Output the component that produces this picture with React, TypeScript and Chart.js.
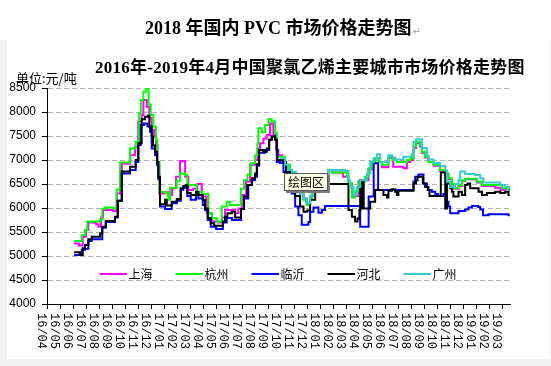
import React, { useEffect, useRef } from 'react';
import { Chart, registerables } from 'chart.js';

Chart.register(...registerables);

const mainTitle = '2018 年国内 PVC 市场价格走势图';
const subTitle = '2016年-2019年4月中国聚氯乙烯主要城市市场价格走势图';
const unitLabel = '单位:元/吨';
const plotTip = '绘图区';

const xLabels = [
  '16/04', '16/05', '16/06', '16/07', '16/08', '16/09', '16/10', '16/11', '16/12',
  '17/01', '17/02', '17/03', '17/04', '17/05', '17/06', '17/07', '17/08', '17/09', '17/10', '17/11', '17/12',
  '18/01', '18/02', '18/03', '18/04', '18/05', '18/06', '18/07', '18/08', '18/09', '18/10', '18/11', '18/12',
  '19/01', '19/02', '19/03',
];

const yMin = 4000;
const yMax = 8500;
const yStep = 500;

const seriesNames = ['上海', '杭州', '临沂', '河北', '广州'];
const seriesColors = ['#ff00ff', '#00ff00', '#0000ff', '#000000', '#33cccc'];

// [month index from 16/04, price]
const shanghai: [number, number][] = [
  [2.08, 5260], [2.46, 5220], [2.75, 5400], [3.0, 5540], [3.18, 5700], [3.77, 5660], [3.95, 5610], [4.15, 5800],
  [4.31, 5960], [5.08, 5940], [5.36, 6300], [5.62, 6600], [5.75, 6920], [6.38, 7100], [6.77, 7280], [7.02, 7800],
  [7.28, 7940], [7.41, 8250], [7.67, 8110], [7.87, 7870], [8.05, 7630], [8.23, 7480], [8.38, 7300], [8.5, 6900],
  [8.64, 6300], [9.08, 6330], [9.31, 6270], [9.62, 6410], [9.92, 6650], [10.23, 6980], [10.62, 6650], [10.87, 6375],
  [11.23, 6400], [11.56, 6500], [11.9, 6240], [12.28, 5890], [12.67, 5720], [13.15, 5700], [13.46, 5800], [13.69, 5960],
  [14.46, 5890], [14.72, 5990], [14.98, 6270], [15.31, 6550], [15.62, 6900], [16.0, 7000], [16.18, 7240], [16.38, 7350],
  [16.64, 7450], [16.9, 7520], [17.15, 7760], [17.41, 7520], [17.62, 7210], [17.79, 7100], [18.08, 6950], [18.38, 6850],
  [18.69, 6720], [19.08, 6520], [19.46, 6300], [19.72, 6200], [19.98, 6080], [20.23, 6250], [20.38, 6340], [20.69, 6500],
  [21.0, 6650], [21.64, 6790], [21.92, 6740], [22.77, 6650], [23.18, 6510], [23.44, 6250], [23.95, 6550], [24.31, 6580],
  [24.72, 6800], [24.98, 6960], [25.23, 7035], [25.48, 6960], [25.75, 6850], [26.25, 7040], [26.62, 6860], [27.4, 6830],
  [27.67, 6960], [27.92, 7000], [28.18, 7250], [28.38, 7350], [28.69, 7280], [28.82, 7150], [29.08, 7050], [29.33, 6960],
  [29.72, 6880], [30.23, 6770], [30.62, 6700], [30.87, 6600], [31.13, 6490], [31.25, 6400], [31.64, 6460], [31.9, 6560],
  [32.15, 6600], [33.05, 6530], [33.44, 6460], [34.46, 6420], [34.85, 6380], [35.23, 6400], [35.54, 6350], [35.58, 6350],
];

const hangzhou: [number, number][] = [
  [2.08, 5310], [2.67, 5440], [2.92, 5540], [3.1, 5720], [4.08, 5760], [4.25, 5980], [4.46, 6010], [5.08, 5990],
  [5.36, 6380], [5.62, 6950], [6.38, 7240], [6.82, 7380], [7.08, 7970], [7.21, 8250], [7.41, 8420], [7.62, 8480],
  [7.82, 8150], [7.98, 7940], [8.18, 7700], [8.38, 7420], [8.48, 6960], [8.64, 6340], [9.08, 6310], [9.33, 6170],
  [9.46, 6420], [9.98, 6570], [10.23, 6720], [10.62, 6690], [10.79, 6480], [11.52, 6340], [11.9, 6290], [12.41, 5890],
  [12.67, 5785], [13.05, 5715], [13.44, 6030], [13.82, 6130], [14.08, 6060], [14.9, 6400], [15.15, 6580], [15.41, 6700],
  [15.67, 6930], [16.0, 7100], [16.18, 7350], [16.25, 7660], [16.52, 7580], [16.77, 7730], [17.02, 7850], [17.28, 7800],
  [17.54, 7560], [17.67, 7070], [18.31, 6900], [18.69, 6750], [19.08, 6550], [19.46, 6330], [19.72, 6170], [19.98, 6060],
  [20.23, 6210], [20.36, 6340], [20.69, 6500], [21.0, 6650], [21.64, 6790], [21.92, 6740], [23.05, 6650], [23.18, 6510],
  [23.44, 6220], [23.69, 6350], [23.95, 6550], [24.46, 6650], [24.72, 6830], [24.98, 6960], [25.23, 7035], [25.48, 6960],
  [25.75, 6900], [26.25, 7070], [26.54, 7000], [26.9, 6960], [27.67, 7000], [27.92, 7030], [28.18, 7280], [28.38, 7380],
  [28.69, 7310], [28.82, 7170], [29.08, 7070], [29.33, 6960], [29.72, 6900], [30.23, 6790], [30.62, 6720], [30.87, 6620],
  [31.13, 6510], [31.25, 6410], [31.64, 6480], [31.9, 6580], [32.15, 6610], [33.05, 6550], [33.44, 6480], [34.98, 6410],
  [35.48, 6375], [35.58, 6375],
];

const linyi: [number, number][] = [
  [2.08, 5020], [2.67, 5130], [2.92, 5150], [3.18, 5310], [3.44, 5350], [4.13, 5350], [4.25, 5590], [4.52, 5710],
  [5.23, 5800], [5.44, 6150], [5.75, 6720], [6.38, 6790], [6.82, 6960], [7.02, 7310], [7.21, 7730], [7.46, 7760],
  [7.72, 7700], [7.92, 7590], [8.05, 7240], [8.31, 7100], [8.46, 6900], [8.56, 6600], [8.69, 6030], [9.08, 5980],
  [9.59, 6100], [9.98, 6150], [10.28, 6380], [10.48, 6420], [10.69, 6460], [10.79, 6250], [11.05, 6170], [11.46, 6300],
  [11.64, 6200], [11.98, 6060], [12.15, 5960], [12.36, 5750], [12.59, 5610], [13.0, 5560], [13.52, 5700], [13.82, 5790],
  [14.23, 5750], [14.92, 5980], [15.15, 6200], [15.48, 6480], [15.75, 6580], [16.0, 6650], [16.15, 6880], [16.31, 7150],
  [16.77, 7210], [17.08, 7420], [17.28, 7490], [17.54, 7420], [17.67, 6960], [17.92, 6940], [18.18, 6750], [18.44, 6580],
  [18.82, 6300], [19.08, 6030], [19.33, 5850], [19.59, 5650], [20.1, 5710], [20.23, 5920], [20.49, 6010], [20.87, 5900],
  [21.13, 5960], [21.38, 6040], [24.08, 5610], [24.73, 6240], [25.12, 6930], [25.46, 6375], [28.18, 6550], [28.31, 6650],
  [28.56, 6700], [28.95, 6510], [29.21, 6440], [29.33, 6375], [29.59, 6340], [29.85, 6290], [30.08, 6250], [30.48, 6290],
  [30.75, 6130], [30.87, 6030], [31.0, 5890], [31.64, 5940], [32.15, 5970], [32.41, 6010], [32.67, 6040], [33.15, 6020],
  [33.31, 5970], [33.52, 5850], [33.95, 5870], [35.48, 5850], [35.58, 5850],
];

const hebei: [number, number][] = [
  [2.08, 5080], [2.54, 5020], [2.75, 5160], [2.92, 5230], [3.18, 5350], [3.44, 5400], [4.08, 5470], [4.25, 5610],
  [4.52, 5730], [5.23, 5820], [5.44, 6150], [5.75, 6760], [6.38, 6860], [6.82, 7000], [7.02, 7350], [7.28, 7850],
  [7.54, 7900], [7.75, 7920], [7.87, 7700], [8.05, 7490], [8.15, 7300], [8.31, 7170], [8.46, 6960], [8.56, 6650],
  [8.69, 6080], [9.08, 6170], [9.21, 6050], [9.59, 6130], [9.98, 6190], [10.28, 6410], [10.48, 6460], [10.69, 6480],
  [10.79, 6310], [11.05, 6270], [11.46, 6340], [11.64, 6270], [11.98, 6170], [12.15, 5990], [12.36, 5790], [12.59, 5680],
  [12.85, 5630], [13.52, 5720], [13.69, 5820], [13.87, 5890], [14.21, 5920], [14.46, 5800], [14.92, 5980], [15.15, 6240],
  [15.41, 6480], [15.75, 6620], [16.0, 6720], [16.13, 6910], [16.31, 7210], [16.64, 7170], [16.9, 7240], [17.08, 7420],
  [17.28, 7490], [17.54, 7420], [17.67, 7210], [17.72, 7000], [18.15, 6960], [18.38, 6750], [18.69, 6500], [19.08, 6250],
  [19.46, 6030], [19.72, 5920], [20.0, 5950], [20.23, 6170], [20.62, 6340], [20.85, 6500], [23.18, 5960], [23.44, 5820],
  [23.69, 5720], [23.88, 5780], [24.02, 5960], [24.08, 6580], [24.15, 5990], [24.27, 6550], [24.35, 5990], [24.85, 6130],
  [25.23, 6375], [25.87, 6270], [26.13, 6220], [26.25, 6360], [26.52, 6390], [26.77, 6340], [26.9, 6270], [27.02, 6360],
  [28.18, 6510], [28.37, 6580], [28.49, 6650], [28.9, 6510], [29.08, 6440], [29.28, 6375], [29.41, 6250], [30.28, 6740],
  [30.62, 5990], [30.75, 6510], [31.0, 6410], [31.13, 6340], [31.25, 6240], [31.64, 6340], [31.9, 6270], [32.15, 6480],
  [32.33, 6510], [32.54, 6410], [33.18, 6340], [33.44, 6270], [33.82, 6310], [34.46, 6340], [34.85, 6310], [35.23, 6340],
  [35.48, 6270], [35.58, 6270],
];

const guangzhou: [number, number][] = [
  [17.92, 7035], [18.31, 6900], [18.54, 6790], [18.85, 6750], [19.15, 6550], [19.46, 6300], [19.69, 6200], [19.92, 6100],
  [20.23, 6250], [20.46, 6400], [20.85, 6600], [21.15, 6700], [21.64, 6790], [22.92, 6770], [23.18, 6580], [23.31, 6440],
  [23.56, 6270], [23.82, 6440], [24.08, 6580], [24.59, 6720], [24.85, 6960], [25.1, 7035], [25.36, 7120], [25.62, 6960],
  [26.25, 7100], [26.54, 7050], [26.77, 7010], [27.41, 7070], [28.05, 7120], [28.18, 7380], [28.38, 7430], [28.82, 7250],
  [29.21, 7100], [29.33, 7010], [29.72, 6940], [30.23, 6875], [30.62, 6780], [30.75, 6550], [31.0, 6440], [31.38, 6500],
  [31.64, 6580], [31.77, 6760], [32.15, 6710], [32.92, 6690], [33.31, 6620], [33.56, 6530], [34.85, 6480], [35.23, 6440],
  [35.58, 6360],
];

const seriesData = [shanghai, hangzhou, linyi, hebei, guangzhou];

const decorPlugin = {
  id: 'decor',
  beforeDraw(chart: any) {
    const ctx = chart.ctx;
    ctx.save();
    ctx.fillStyle = '#ffffff';
    ctx.fillRect(0, 0, 551, 366);
    ctx.fillStyle = '#f2f2f2';
    ctx.fillRect(0, 40, 7, 326);
    ctx.fillRect(0, 359, 551, 7);
    ctx.fillRect(550, 40, 1, 326);
    ctx.restore();
  },
  afterDraw(chart: any) {
    const ctx = chart.ctx;
    const xs = chart.scales.x;
    ctx.save();

    // titles
    ctx.fillStyle = '#000';
    ctx.textAlign = 'left';
    ctx.textBaseline = 'alphabetic';
    ctx.font = 'bold 18px "Liberation Serif", "Noto Sans CJK SC"';
    ctx.fillText(mainTitle, 145, 33.5);
    const w = ctx.measureText(mainTitle).width;
    ctx.fillStyle = '#9a9a9a';
    ctx.font = '10px "DejaVu Sans"';
    ctx.fillText('↵', 145 + w + 1, 35);

    ctx.fillStyle = '#000';
    ctx.font = 'bold 17px "Liberation Serif", "Noto Sans CJK SC"';
    (ctx as any).letterSpacing = '0.25px';
    ctx.fillText(subTitle, 95, 73);
    (ctx as any).letterSpacing = '0px';

    ctx.font = '13px "Noto Sans CJK SC"';
    ctx.fillText(unitLabel, 16, 82.5);

    // x labels rotated clockwise
    ctx.font = '12px "Liberation Mono"';
    ctx.textBaseline = 'alphabetic';
    ctx.textAlign = 'left';
    xLabels.forEach((lab, i) => {
      const px = xs.getPixelForValue(i);
      ctx.save();
      ctx.translate(px - 9.5, 313);
      ctx.rotate(Math.PI / 2);
      ctx.fillText(lab, 0, 0);
      ctx.restore();
    });

    // legend inside plot
    const ly = 274;
    chart.data.datasets.forEach((ds: any, i: number) => {
      const x0 = 99.5 + i * 76;
      ctx.strokeStyle = ds.borderColor;
      ctx.lineWidth = 2;
      ctx.beginPath();
      ctx.moveTo(x0, ly);
      ctx.lineTo(x0 + 27.5, ly);
      ctx.stroke();
      ctx.fillStyle = '#000';
      ctx.font = '12px "Noto Sans CJK SC"';
      ctx.textBaseline = 'middle';
      ctx.fillText(ds.label, x0 + 29, ly);
    });

    // plot-area hint box
    ctx.fillStyle = '#7a7a7a';
    ctx.fillRect(286, 175, 44, 18);
    ctx.fillStyle = '#ffffe1';
    ctx.fillRect(284, 173, 44, 18);
    ctx.strokeStyle = '#555';
    ctx.lineWidth = 1;
    ctx.strokeRect(284.5, 173.5, 43, 17);
    ctx.fillStyle = '#000';
    ctx.font = '12px "Noto Sans CJK SC"';
    ctx.textBaseline = 'alphabetic';
    ctx.fillText(plotTip, 288, 187);

    ctx.restore();
  },
};

export default function App() {
  const ref = useRef<HTMLCanvasElement | null>(null);

  useEffect(() => {
    if (!ref.current) return;
    Chart.defaults.font.family = '"Liberation Sans", Arial, sans-serif';
    const chart = new Chart(ref.current, {
      type: 'line',
      data: {
        datasets: seriesNames.map((name, i) => ({
          label: name,
          data: seriesData[i].map(([x, y]) => ({ x, y })),
          borderColor: seriesColors[i],
          backgroundColor: seriesColors[i],
          borderWidth: 2,
          pointRadius: 0,
          stepped: 'before' as const,
          fill: false,
          order: 5 - i,
        })),
      },
      options: {
        animation: false,
        responsive: false,
        devicePixelRatio: 1,
        events: [],
        layout: { padding: { top: 88, right: 41, left: 0, bottom: 0 } },
        plugins: {
          legend: { display: false },
          tooltip: { enabled: false },
          title: { display: false },
        },
        scales: {
          x: {
            type: 'linear',
            min: 0,
            max: 35.6,
            afterFit: (s: any) => { s.height = 62; },
            ticks: { display: false, stepSize: 1, includeBounds: false, maxTicksLimit: 100, autoSkip: false },
            grid: { drawOnChartArea: false, drawTicks: true, tickLength: 5, tickColor: '#000' },
            border: { display: true, color: '#000', width: 1 },
          },
          y: {
            type: 'linear',
            min: yMin,
            max: yMax,
            afterFit: (s: any) => { s.width = 47; },
            ticks: {
              stepSize: yStep,
              padding: 6,
              color: '#000',
              font: { family: '"Liberation Sans"', size: 12 },
              callback: (v: any) => String(v),
            },
            grid: {
              color: (c: any) => (c.tick && c.tick.value === yMin ? 'rgba(0,0,0,0)' : '#b4b4b4'),
              lineWidth: 1,
              drawTicks: true,
              tickLength: 5,
              tickColor: '#000',
            },
            border: { display: true, color: '#000', width: 1, dash: [5, 3] },
          },
        },
      },
      plugins: [decorPlugin],
    });
    return () => chart.destroy();
  }, []);

  return (
    <div style={{ position: 'fixed', left: 0, top: 0, width: 551, height: 366 }}>
      <canvas ref={ref} width={551} height={366} style={{ display: 'block', width: 551, height: 366 }} />
    </div>
  );
}
